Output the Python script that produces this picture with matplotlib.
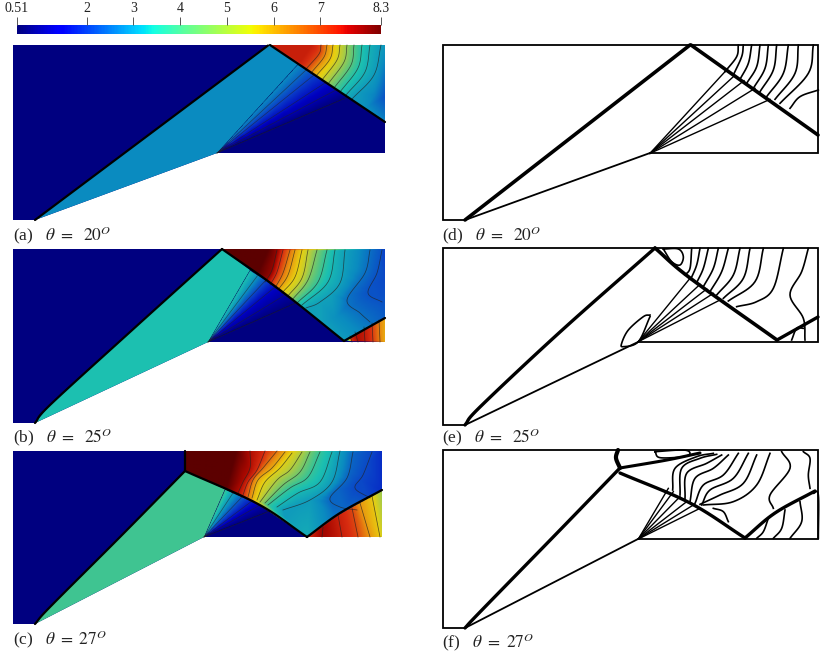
import numpy as np
import matplotlib
matplotlib.use("Agg")
import matplotlib.pyplot as plt
from matplotlib.colors import Normalize, LinearSegmentedColormap
from matplotlib.cm import ScalarMappable
from matplotlib.patches import Polygon
from matplotlib.tri import Triangulation, LinearTriInterpolator

W, H = 823, 653
VMIN, VMAX = 0.51, 8.3
CBAR_TICKS = [0.51, 2, 3, 4, 5, 6, 7, 8.3]
CBAR_LABELS = ["0.51", "2", "3", "4", "5", "6", "7", "8.3"]
FIELD_STOPS = [(0.51, "#000080"), (1.2, "#0000c0"), (1.9, "#0a40c8"), (2.7, "#0a8cc0"),
               (3.7, "#1cc0b0"), (4.1, "#40c490"), (5.0, "#b0cc40"), (5.6, "#e8d010"),
               (6.3, "#e88c10"), (7.0, "#d82c10"), (7.6, "#a80800"), (8.3, "#5c0000")]

# ---------- panel (a) ----------
A_BOX = [(13, 45), (385, 45), (385, 153), (217, 153), (35, 220), (13, 220)]
A_LIP = [(35, 220), (268, 45.5)]
A_REFL = [(270, 45), (385, 122)]
A_POST_VALUE = 2.7
A_POST = [(35, 220), (268, 45), (270, 45), (298, 64), (217, 153)]
A_FAN_ORIGIN = (217, 153)
A_FAN_ENDS = [(298, 64), (306, 70), (314, 75), (325, 83), (336, 90), (348, 97)]
A_FAN_LEVELS = [2.7, 2.3, 1.9, 1.4, 1.0, 0.51]
A_TOP = [(270, 45), (385, 45), (385, 122)]
A_TOP_LEVELS = [6.8, 6.3, 5.8, 5.3, 4.8, 4.3, 3.8, 3.4, 3.0]
A_TOP_LINES = [[(321, 45), (319, 54), (306, 69)], [(327, 45), (324, 57), (311, 73)],
               [(333, 45), (330, 59), (316, 76)], [(340, 45), (337, 60), (322, 80)],
               [(347, 45), (344, 62), (328, 84)], [(354, 45), (351, 65), (334, 88)],
               [(362, 45), (358, 68), (340, 92)], [(370, 45), (365, 72), (346, 95)],
               [(381, 45), (374, 75), (352, 99)]]
A_TOP_EXTRA = [(270, 45, 7.2), (312, 45, 7.2), (300, 62, 7.2), (385, 45, 2.9), (385, 97, 2.1),
               (375, 95, 2.6), (385, 122, 2.6), (365, 108, 2.8)]

# ---------- panel (b) ----------
B_BOX = [(13, 249), (385, 249), (385, 342), (208, 342), (35, 423), (13, 423)]
B_LIP = [(35, 423), (50, 405), (130, 332), (222, 249)]
B_REFL = [(222, 249), (280, 290), (344, 341)]
B_REFL2 = [(344, 341), (385, 318)]
B_POST_VALUE = 3.7
B_POST = [(35, 423), (50, 405), (130, 332), (222, 249), (250, 270), (208, 342)]
B_FAN_ORIGIN = (208, 342)
B_FAN_ENDS = [(250, 270), (258, 275), (266, 280), (275, 287), (285, 295), (296, 303)]
B_FAN_LEVELS = [3.7, 2.8, 2.0, 1.3, 0.9, 0.51]
B_TOP = [(222, 249), (385, 249), (385, 318), (344, 341), (280, 290)]
B_TOP_LEVELS = [7.8, 7.0, 6.5, 6.1, 5.6, 5.2, 4.6, 4.0, 3.5, 3.1, 2.4, 2.1]
B_TOP_LINES = [[(277, 250), (272, 270), (265, 282)], [(283, 250), (277, 272), (270, 285)],
               [(290, 250), (283, 273), (275, 288)], [(295, 250), (288, 275), (278, 290)],
               [(302, 250), (295, 277), (282, 293)], [(308, 250), (302, 278), (287, 297)],
               [(317, 250), (308, 280), (292, 300)], [(327, 250), (318, 282), (297, 303)],
               [(335, 250), (328, 282), (302, 305)],
               [(345, 250), (340, 283), (320, 302), (306, 308)],
               [(370, 250), (365, 273), (347, 300), (360, 313), (370, 322)],
               [(382, 250), (377, 273), (368, 293), (382, 302)]]
B_TOP_EXTRA = [(222, 249, 8.3), (268, 249, 8.3), (258, 272, 8.3), (344, 341, 3.0), (385, 318, 2.2),
               (385, 249, 1.9), (385, 280, 2.0), (320, 322, 3.1), (335, 318, 2.8)]
B_LOW = [(344, 341), (385, 318), (385, 342)]
B_LOW_LEVELS = [7.0, 7.5, 7.3, 6.9, 6.4]
B_LOW_LINES = [[(352, 342), (350, 336)], [(358, 342), (355, 332)], [(365, 342), (364, 327)],
               [(373, 342), (372, 323)], [(380, 342), (379, 320)]]
B_LOW_EXTRA = [(344, 341, 1.2), (385, 318, 6.0), (385, 342, 6.0)]

# ---------- panel (c) ----------
C_BOX = [(13, 451), (382, 451), (382, 537), (204, 537), (35, 624), (13, 624)]
C_LIP = [(35, 624), (50, 607), (120, 537), (185, 471)]
C_STEM = [(185, 471), (185, 451)]
C_REFL = [(185, 471), (258, 504), (307, 537)]
C_REFL2 = [(307, 537), (340, 513), (382, 490)]
C_POST_VALUE = 4.1
C_POST = [(35, 624), (50, 607), (120, 537), (185, 471), (225, 489), (204, 537)]
C_FAN_ORIGIN = (204, 537)
C_FAN_ENDS = [(225, 489), (233, 493), (242, 497), (252, 501), (260, 505), (270, 511)]
C_FAN_LEVELS = [4.1, 3.0, 2.2, 1.5, 1.0, 0.51]
C_TOP = [(185, 451), (382, 451), (382, 490), (307, 537), (258, 504), (185, 471)]
C_TOP_LEVELS = [7.5, 7.0, 6.5, 6.0, 5.5, 5.0, 4.5, 4.0, 3.5, 3.0, 2.3, 2.0]
C_TOP_LINES = [[(250, 451), (250, 468), (243, 482), (238, 493)],
               [(265, 451), (257, 470), (248, 482), (243, 495)],
               [(277, 451), (263, 468), (253, 480), (248, 497)],
               [(285, 452), (272, 468), (258, 480), (252, 498)],
               [(292, 453), (280, 468), (265, 482), (257, 500)],
               [(302, 452), (290, 470), (277, 480), (260, 502)],
               [(310, 452), (300, 472), (283, 485), (265, 503)],
               [(320, 452), (308, 477), (290, 488), (268, 505)],
               [(332, 452), (320, 482), (298, 493), (277, 507)],
               [(340, 451), (332, 482), (310, 500), (283, 510)],
               [(353, 452), (347, 478), (330, 498), (340, 507), (357, 510)],
               [(372, 452), (363, 475), (355, 488), (370, 498)]]
C_TOP_EXTRA = [(185, 451, 8.3), (185, 471, 8.3), (236, 451, 8.3), (226, 488, 8.3), (382, 451, 1.7),
               (382, 490, 1.7), (307, 537, 3.3), (285, 518, 3.0), (335, 515, 2.4)]
C_LOW = [(307, 537), (340, 513), (382, 490), (382, 537)]
C_LOW_LEVELS = [7.7, 7.2, 6.8, 6.2, 5.7]
C_LOW_LINES = [[(322, 537), (323, 527)], [(342, 537), (338, 515)], [(358, 537), (352, 508)],
               [(370, 537), (360, 503)], [(380, 537), (372, 496)]]
C_LOW_EXTRA = [(307, 537, 7.0), (382, 490, 4.8), (382, 537, 5.4)]

# ---------- panel (d), zoomed reading at origin D_ZOOM, scale 3 ----------
D_ZOOM = (600, 40)
D_BOX = [(443, 45), (818, 45), (818, 153), (650, 153), (465, 220), (443, 220)]
D_LIP = [(465, 220), (690, 45)]
D_REFL = [(691, 45), (818, 135)]
D_FAN_ORIGIN = (150, 340)
D_FAN_ENDS = [(375, 95), (400, 110), (432, 122), (465, 145), (510, 178)]
D_LINES = [[(415, 15), (410, 50), (375, 95)], [(430, 15), (425, 50), (400, 105)],
           [(455, 15), (445, 70), (420, 118)], [(480, 15), (470, 80), (440, 130)],
           [(505, 15), (495, 85), (460, 145)], [(530, 15), (520, 90), (480, 155)],
           [(565, 15), (550, 100), (500, 170)], [(595, 15), (585, 100), (525, 178)],
           [(640, 15), (625, 100), (540, 190)], [(655, 150), (600, 170), (570, 205)]]

# ---------- panel (e) ----------
E_ZOOM = (600, 245)
E_BOX = [(443, 248), (818, 248), (818, 342), (638, 342), (465, 425), (443, 425)]
E_LIP = [(465, 425), (480, 407), (560, 332), (655, 248)]
E_REFL = [(655, 248), (690, 278), (777, 340)]
E_REFL2 = [(777, 340), (818, 317)]
E_FAN_ORIGIN = (115, 290)
E_FAN_ENDS = [(270, 100), (300, 118), (320, 132), (340, 145), (360, 165)]
E_LINES = [[(275, 10), (270, 70), (255, 90)], [(300, 10), (290, 60), (272, 103)],
           [(325, 10), (310, 70), (290, 113)], [(355, 10), (340, 70), (310, 125)],
           [(385, 10), (365, 80), (330, 140)], [(420, 10), (400, 90), (350, 150)],
           [(450, 10), (430, 100), (370, 160)], [(490, 10), (465, 110), (385, 168)],
           [(550, 10), (520, 130), (470, 170), (410, 185)],
           [(625, 10), (605, 80), (570, 150), (610, 220), (615, 285)],
           [(190, 12), (235, 12), (250, 35), (240, 60), (215, 50), (190, 12)],
           [(150, 210), (130, 215), (85, 255), (65, 295), (70, 305), (115, 290), (150, 215)],
           [(610, 250), (590, 250), (575, 285)]]

# ---------- panel (f) ----------
F_ZOOM = (600, 445)
F_BOX = [(443, 450), (818, 450), (818, 539), (638, 539), (465, 628), (443, 628)]
F_LIP = [(465, 628), (480, 612), (560, 530), (620, 468)]
F_STEM = [(620, 468), (616, 458), (618, 450)]
F_SLIP = [(620, 468), (667, 460), (700, 453)]
F_REFL = [(620, 473), (690, 503), (745, 538)]
F_REFL2 = [(745, 538), (775, 513), (815, 491)]
F_FAN_ORIGIN = (115, 282)
F_FAN_ENDS = [(205, 130), (220, 140), (240, 155), (260, 170), (280, 180), (300, 190)]
F_LINES = [[(218, 135), (225, 70), (290, 35), (340, 25)], [(240, 150), (245, 70), (300, 40), (350, 28)],
           [(255, 160), (260, 85), (320, 55), (365, 30)], [(270, 170), (285, 100), (340, 70), (385, 30)],
           [(285, 175), (310, 120), (370, 90), (415, 25)], [(305, 180), (330, 135), (400, 100), (445, 25)],
           [(300, 178), (360, 150), (430, 115), (470, 30)], [(310, 180), (400, 170), (470, 120), (510, 25)],
           [(520, 190), (510, 150), (570, 70), (545, 20)], [(630, 130), (625, 90), (630, 40), (610, 20)],
           [(340, 190), (370, 200), (385, 230)],
           [(165, 20), (180, 38), (250, 35), (270, 25), (250, 15), (165, 20)],
           [(640, 145), (655, 150), (655, 280)], [(600, 170), (605, 230), (570, 280)],
           [(555, 195), (545, 250), (520, 280)], [(505, 220), (490, 260), (470, 280)]]

LABELS = ["(a)   $\\theta\\ =\\ \\ 20^{O}$", "(b)   $\\theta\\ =\\ \\ 25^{O}$", "(c)   $\\theta\\ =\\ 27^{O}$",
          "(d)   $\\theta\\ =\\ \\ 20^{O}$", "(e)   $\\theta\\ =\\ \\ 25^{O}$", "(f)   $\\theta\\ =\\ 27^{O}$"]
LABEL_X = [13, 13, 13, 442, 442, 442]
LABEL_Y = [241, 443, 645, 241, 443, 648]

plt.rcParams["font.family"] = "Liberation Serif"
plt.rcParams["mathtext.fontset"] = "stix"

norm = Normalize(VMIN, VMAX)
FIELD = LinearSegmentedColormap.from_list(
    "field", [((v - VMIN) / (VMAX - VMIN), c) for v, c in FIELD_STOPS], N=512)

fig = plt.figure(figsize=(W / 100, H / 100), dpi=100)


def spline(pts, n=10):
    p = np.asarray(pts, float)
    if len(p) < 3:
        return p
    q = np.vstack([2 * p[0] - p[1], p, 2 * p[-1] - p[-2]])
    out = []
    for i in range(1, len(q) - 2):
        for t in np.linspace(0, 1, n, endpoint=False):
            a = 2 * q[i] + (q[i + 1] - q[i - 1]) * t
            b = (2 * q[i - 1] - 5 * q[i] + 4 * q[i + 1] - q[i + 2]) * t ** 2
            c = (-q[i - 1] + 3 * q[i] - 3 * q[i + 1] + q[i + 2]) * t ** 3
            out.append(0.5 * (a + b + c))
    out.append(p[-1])
    return np.array(out)


def panel(box):
    b = np.array(box, float)
    x0, x1, y0, y1 = b[:, 0].min(), b[:, 0].max(), b[:, 1].min(), b[:, 1].max()
    ax = fig.add_axes([x0 / W, 1 - y1 / H, (x1 - x0) / W, (y1 - y0) / H])
    ax.set_axis_off()
    ax.set_xlim(x0, x1)
    ax.set_ylim(y1, y0)
    ax.set_autoscale_on(False)
    return ax


def paint(ax, poly, levels, lines, extra):
    xs, ys, zs = [], [], []
    for lev, line in zip(levels, lines):
        s = spline(line, 4)
        xs += list(s[:, 0]); ys += list(s[:, 1]); zs += [lev] * len(s)
    for x, y, z in extra:
        xs.append(x); ys.append(y); zs.append(z)
    pts, idx = np.unique(np.c_[xs, ys], axis=0, return_index=True)
    interp = LinearTriInterpolator(Triangulation(pts[:, 0], pts[:, 1]), np.array(zs)[idx])
    p = np.array(poly, float)
    gx = np.arange(p[:, 0].min(), p[:, 0].max() + 0.5, 0.5)
    gy = np.arange(p[:, 1].min(), p[:, 1].max() + 0.5, 0.5)
    Z = interp(*np.meshgrid(gx, gy))
    im = ax.imshow(Z, extent=(gx[0], gx[-1], gy[-1], gy[0]), cmap=FIELD, norm=norm,
                   interpolation="bilinear", aspect="auto", zorder=2)
    im.set_clip_path(Polygon(poly, transform=ax.transData))


def contours(ax, lines):
    for line in lines:
        s = spline(line)
        ax.plot(s[:, 0], s[:, 1], color="#222222", lw=0.55, alpha=0.7, zorder=3, clip_on=False)


def fan(ax, origin, ends, levels):
    o = np.array(origin, float)
    rays = [[o + 0.03 * (np.array(e) - o), (o + np.array(e)) / 2, np.array(e, float)] for e in ends]
    paint(ax, [origin] + ends, levels, rays, [])
    for e in ends[1:]:
        ax.plot([o[0], e[0]], [o[1], e[1]], color="#222222", lw=0.5, alpha=0.6, zorder=3)


def shock(ax, pts, lw=1.6):
    s = spline(pts)
    ax.plot(s[:, 0], s[:, 1], color="black", lw=lw, zorder=4, solid_capstyle="round", clip_on=False)


def left(box, post, post_value):
    ax = panel(box)
    ax.add_patch(Polygon(box, fc=FIELD(norm(VMIN)), ec="none", zorder=1))
    ax.add_patch(Polygon(post, fc=FIELD(norm(post_value)), ec="none", zorder=1.5))
    return ax


# panels a-c
ax = left(A_BOX, A_POST, A_POST_VALUE)
fan(ax, A_FAN_ORIGIN, A_FAN_ENDS, A_FAN_LEVELS)
paint(ax, A_TOP, A_TOP_LEVELS, A_TOP_LINES, A_TOP_EXTRA)
contours(ax, A_TOP_LINES)
shock(ax, A_LIP); shock(ax, A_REFL)

ax = left(B_BOX, B_POST, B_POST_VALUE)
fan(ax, B_FAN_ORIGIN, B_FAN_ENDS, B_FAN_LEVELS)
paint(ax, B_TOP, B_TOP_LEVELS, B_TOP_LINES, B_TOP_EXTRA)
paint(ax, B_LOW, B_LOW_LEVELS, B_LOW_LINES, B_LOW_EXTRA)
contours(ax, B_TOP_LINES); contours(ax, B_LOW_LINES)
shock(ax, B_LIP); shock(ax, B_REFL); shock(ax, B_REFL2)

ax = left(C_BOX, C_POST, C_POST_VALUE)
fan(ax, C_FAN_ORIGIN, C_FAN_ENDS, C_FAN_LEVELS)
paint(ax, C_TOP, C_TOP_LEVELS, C_TOP_LINES, C_TOP_EXTRA)
paint(ax, C_LOW, C_LOW_LEVELS, C_LOW_LINES, C_LOW_EXTRA)
contours(ax, C_TOP_LINES); contours(ax, C_LOW_LINES)
shock(ax, C_LIP); shock(ax, C_STEM); shock(ax, C_REFL); shock(ax, C_REFL2)


# panels d-f
def right(box, zoom, origin, ends, lines):
    ax = panel(box)
    ax.add_patch(Polygon(box, fc="white", ec="black", lw=1.3, zorder=1, clip_on=False))
    z = np.array(zoom, float)
    o = z + np.array(origin, float) / 3
    for e in ends:
        e = z + np.array(e, float) / 3
        ax.plot([o[0], e[0]], [o[1], e[1]], color="black", lw=1.0, zorder=3)
    for line in lines:
        s = z + spline(line) / 3
        ax.plot(s[:, 0], s[:, 1], color="black", lw=1.2, zorder=3, clip_on=False)
    return ax


ax = right(D_BOX, D_ZOOM, D_FAN_ORIGIN, D_FAN_ENDS, D_LINES)
shock(ax, D_LIP, 2.6); shock(ax, D_REFL, 2.6)
ax = right(E_BOX, E_ZOOM, E_FAN_ORIGIN, E_FAN_ENDS, E_LINES)
shock(ax, E_LIP, 2.4); shock(ax, E_REFL, 2.6); shock(ax, E_REFL2, 2.4)
ax = right(F_BOX, F_ZOOM, F_FAN_ORIGIN, F_FAN_ENDS, F_LINES)
shock(ax, F_LIP, 2.4); shock(ax, F_STEM, 3); shock(ax, F_SLIP, 2.2)
shock(ax, F_REFL, 2.4); shock(ax, F_REFL2, 2.4)

# colour bar
cax = fig.add_axes([17 / W, 1 - 34 / H, 364 / W, 9 / H])
cb = fig.colorbar(ScalarMappable(norm=norm, cmap="jet"), cax=cax, orientation="horizontal",
                  ticklocation="top")
cb.set_ticks(CBAR_TICKS)
cb.set_ticklabels(CBAR_LABELS)
cb.minorticks_off()
cb.outline.set_visible(False)
cax.tick_params(axis="x", length=5.5, width=0.7, color="#555555", labelsize=10, pad=1.5,
                labelcolor="#222222")

for text, x, y in zip(LABELS, LABEL_X, LABEL_Y):
    fig.text(x / W, 1 - y / H, text, fontsize=12.5, va="baseline", ha="left", color="#222222")

fig.savefig("out.png", dpi=100)
